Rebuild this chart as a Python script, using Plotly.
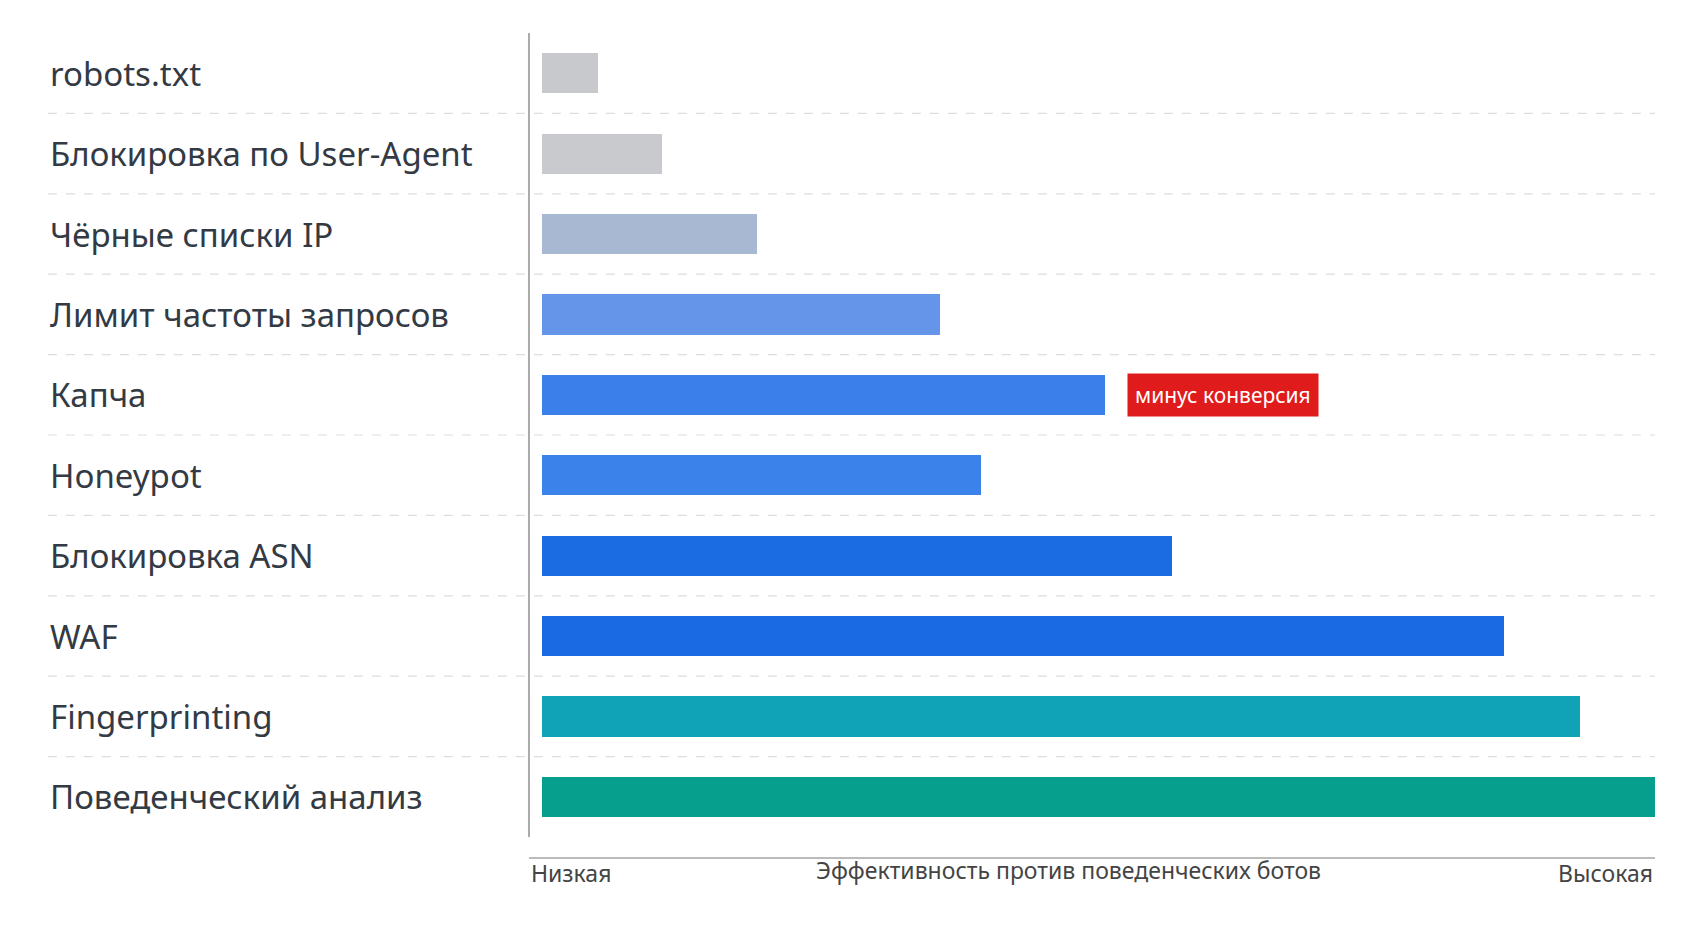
import plotly.graph_objects as go

methods = ["robots.txt", "Блокировка по User-Agent", "Чёрные списки IP", "Лимит частоты запросов",
           "Капча", "Honeypot", "Блокировка ASN", "WAF", "Fingerprinting", "Поведенческий анализ"]
effect = [5, 10.8, 19.3, 35.8, 50.6, 39.4, 56.6, 86.4, 93.3, 100]
colors = ["#c8c9cc", "#c9cacd", "#a8b8d3", "#6595e8", "#3b80ea", "#3b82ea",
          "#1b6ce3", "#1a6be3", "#10a3b8", "#069e8c"]

fig = go.Figure(go.Bar(x=effect, y=list(range(len(methods))), orientation="h",
                       marker=dict(color=colors, line_width=0), width=0.5))

# подписи слева
for i, m in enumerate(methods):
    fig.add_annotation(x=0, y=i, xref="paper", yref="y", text=m, showarrow=False,
                       xanchor="left", xshift=-494, font=dict(size=33, color="#333a44"))

# пунктирные разделители
for i in range(len(methods) - 1):
    fig.add_shape(type="line", xref="paper", yref="y", x0=-0.444, x1=1.0, y0=i + 0.5, y1=i + 0.5,
                  line=dict(color="#dddddd", width=1.2, dash="dash"))

# вертикальная линия
fig.add_shape(type="line", xref="paper", yref="paper", x0=-0.0117, x1=-0.0117, y0=0, y1=1,
              line=dict(color="#aaaaaa", width=2))

# нижняя ось
ya = -0.026
fig.add_shape(type="line", xref="paper", yref="paper", x0=-0.0117, x1=1.0, y0=ya, y1=ya,
              line=dict(color="#bbbbbb", width=2))
for xc in (-0.0117, 1.0):
    fig.add_shape(type="circle", xref="paper", yref="paper", x0=xc, x1=xc, y0=ya, y1=ya,
                  xsizemode="pixel", ysizemode="pixel", xanchor=xc, yanchor=ya,
                  line=dict(color="#aaaaaa", width=2), fillcolor="white")
        
fig.add_annotation(x=-0.0117, y=-0.067, xref="paper", yref="paper", text="Низкая", showarrow=False,
                   xanchor="left", font=dict(size=23, color="#444"))
fig.add_annotation(x=1.0, y=-0.067, xref="paper", yref="paper", text="Высокая", showarrow=False,
                   xanchor="right", font=dict(size=23, color="#444"))
fig.add_annotation(x=0.473, y=-0.064, xref="paper", yref="paper",
                   text="Эффективность против поведенческих ботов", showarrow=False,
                   font=dict(size=23, color="#444"))

fig.add_annotation(x=effect[4], y=4, text="минус конверсия", showarrow=False, xanchor="left",
                   xshift=22, bgcolor="#e01b1b", borderpad=7,
                   font=dict(size=21, color="white"))

fig.update_xaxes(range=[0, 100], visible=False)
fig.update_yaxes(range=[9.5, -0.5], visible=False)
fig.update_layout(width=1693, height=929, margin=dict(l=534, r=46, t=25, b=100),
                  plot_bgcolor="white", paper_bgcolor="white", showlegend=False,
                  font=dict(family="Noto Sans"), bargap=0)
fig.write_html("out.html")
